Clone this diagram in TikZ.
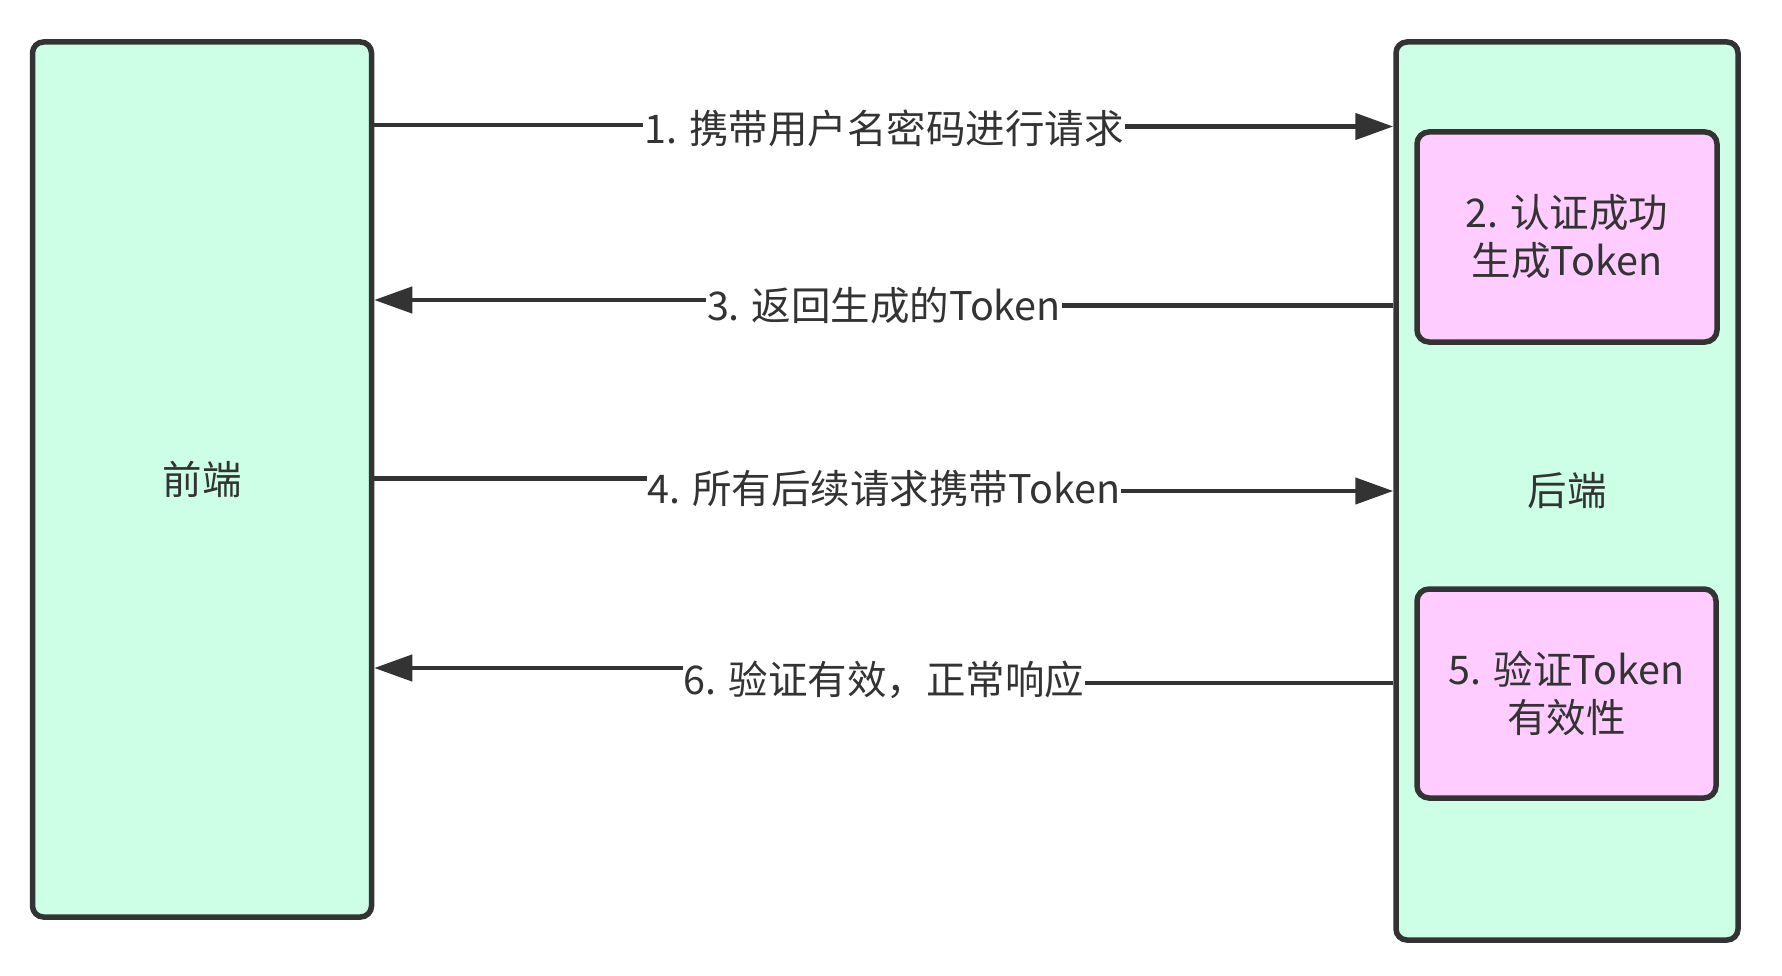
\documentclass[tikz,border=0pt]{standalone}
\usepackage{fontspec}
\setmainfont{Noto Sans CJK SC}
\usetikzlibrary{arrows.meta}
\definecolor{edge}{HTML}{333333}
\definecolor{mint}{HTML}{CCFFE6}
\definecolor{pinkbox}{HTML}{FFCCFF}
\tikzset{
  bigbox/.style={draw=edge, fill=mint, line width=5.5pt, rounded corners=11pt, text=edge, font=\fontsize{39.5}{48}\selectfont},
  innerbox/.style={draw=edge, fill=pinkbox, line width=5.5pt, rounded corners=12pt, text=edge, align=center, font=\fontsize{39.5}{48}\selectfont},
  conn/.style={draw=edge, line width=4.5pt},
  tip/.style={-{Triangle[length=38pt,width=26pt]}},
  lbl/.style={fill=white, text=edge, inner xsep=1pt, inner ysep=2pt, font=\fontsize{39.5}{48}\selectfont}
}
\begin{document}
\begin{tikzpicture}[x=1pt,y=-1pt]
\useasboundingbox (0,0) rectangle (1782,976);
\node[bigbox, minimum width=339pt, minimum height=875pt] (front) at (202,479.5) {前端};
\node[bigbox, minimum width=342pt, minimum height=898pt] (back) at (1567,491) {后端};
\node[innerbox, minimum width=300pt, minimum height=210pt] (auth) at (1567,237) {2. 认证成功\\生成Token};
\node[innerbox, minimum width=299pt, minimum height=209pt] (verify) at (1566.5,693.5) {5. 验证Token\\有效性};
% arrow 1
\draw[conn, tip] (front.east |- 0,125) -- (884,125) -- (884,126.5) -- (back.west |- 0,126.5);
\node[lbl] (l1) at (884,128) {1. 携带用户名密码进行请求};
% arrow 3
\draw[conn, tip] (back.west |- 0,305.5) -- (884,305.5) -- (884,300) -- (front.east |- 0,300);
\node[lbl] (l3) at (884,306) {3. 返回生成的Token};
% arrow 4
\draw[conn, tip] (front.east |- 0,478.5) -- (884,478.5) -- (884,491) -- (back.west |- 0,491);
\node[lbl] (l4) at (884,489) {4. 所有后续请求携带Token};
% arrow 6
\draw[conn, tip] (back.west |- 0,683) -- (884,683) -- (884,668) -- (front.east |- 0,668);
\node[lbl] (l6) at (884,680) {6. 验证有效，正常响应};
\end{tikzpicture}
\end{document}
